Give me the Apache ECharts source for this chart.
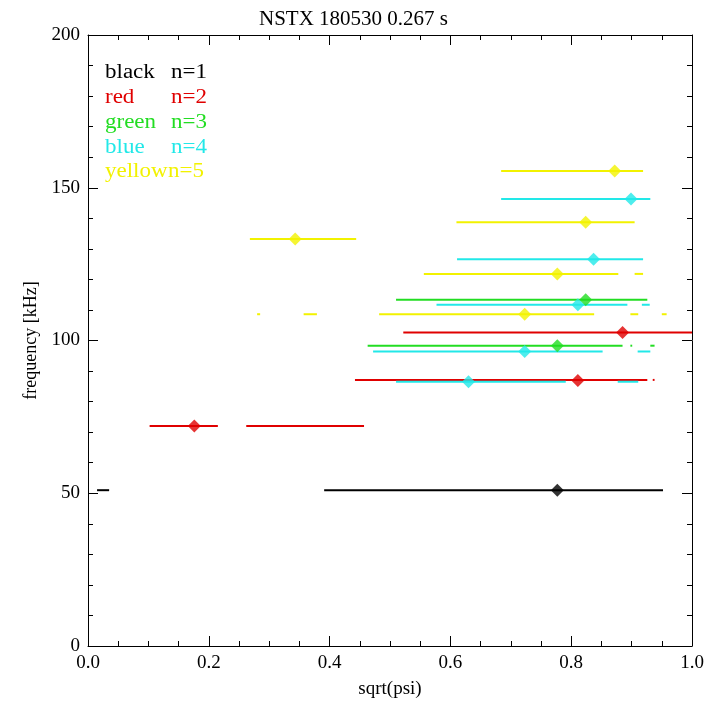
<!DOCTYPE html>
<html><head><meta charset="utf-8">
<script src="https://cdn.jsdelivr.net/npm/echarts@6/dist/echarts.min.js"></script>
<style>html,body{margin:0;padding:0;background:#fff}#c{width:707px;height:701px}</style>
</head><body><div id="c"></div>
<script>
const title = 'NSTX 180530 0.267 s';
const xTicks = [0, 0.2, 0.4, 0.6, 0.8, 1.0];
const yTicks = [0, 50, 100, 150, 200];
const legendNames = ['black', 'red', 'green', 'blue', 'yellow'];
const legendModes = ['n=1', 'n=2', 'n=3', 'n=4', 'n=5'];
const colors = ['#000000', '#e00000', '#22dd22', '#22e8e8', '#f2f200'];
// markers: [sqrt(psi), frequency kHz]
const blackPts = [[0.777, 51]];
const redPts = [[0.176, 72], [0.811, 86.9], [0.885, 102.6]];
const greenPts = [[0.777, 98.3], [0.824, 113.3]];
const bluePts = [[0.630, 86.5], [0.723, 96.4], [0.811, 111.7], [0.837, 126.6], [0.899, 146.3]];
const yellowPts = [[0.343, 133.2], [0.723, 108.6], [0.777, 121.8], [0.824, 138.7], [0.872, 155.5]];
// horizontal extent segments: [x1, x2, frequency]
const blackSeg = [[0.391, 0.952, 51], [0.015, 0.035, 51]];
const redSeg = [[0.102, 0.215, 72], [0.262, 0.457, 72], [0.442, 0.926, 87.1], [0.935, 0.938, 87.1], [0.522, 1.0, 102.6]];
const greenSeg = [[0.463, 0.885, 98.3], [0.898, 0.901, 98.3], [0.931, 0.938, 98.3], [0.510, 0.926, 113.3]];
const blueSeg = [[0.510, 0.791, 86.5], [0.877, 0.911, 86.5], [0.472, 0.852, 96.4], [0.910, 0.931, 96.4],
  [0.577, 0.893, 111.7], [0.917, 0.930, 111.7], [0.611, 0.919, 126.6], [0.684, 0.931, 146.3]];
const yellowSeg = [[0.268, 0.444, 133.2], [0.280, 0.285, 108.6], [0.357, 0.379, 108.6], [0.482, 0.838, 108.6],
  [0.898, 0.911, 108.6], [0.950, 0.958, 108.6], [0.556, 0.878, 121.8], [0.905, 0.919, 121.8],
  [0.610, 0.905, 138.7], [0.684, 0.919, 155.5]];

const allPts = [blackPts, redPts, greenPts, bluePts, yellowPts];
const allSeg = [blackSeg, redSeg, greenSeg, blueSeg, yellowSeg];
const font = 'Liberation Serif';

const chart = echarts.init(document.getElementById('c'), null, {renderer: 'canvas'});
const series = [];
allSeg.forEach((segs, i) => {
  series.push({
    type: 'custom', xAxisIndex: 0, yAxisIndex: 0, clip: true, silent: true,
    data: segs,
    renderItem: (params, api) => {
      const p1 = api.coord([api.value(0), api.value(2)]);
      const p2 = api.coord([api.value(1), api.value(2)]);
      return {type: 'line', shape: {x1: p1[0], y1: p1[1], x2: p2[0], y2: p2[1]},
        style: {stroke: colors[i], lineWidth: 2}};
    }
  });
});
allPts.forEach((pts, i) => {
  series.push({
    type: 'scatter', xAxisIndex: 0, yAxisIndex: 0, symbol: 'diamond', symbolSize: 13,
    itemStyle: {color: colors[i]}, data: pts, silent: true, z: 5
  });
});

const graphics = [];
legendNames.forEach((n, i) => {
  const y = 73 + i * 24.8;
  graphics.push({type: 'text', x: 105, y: y, scaleX: 1.15,
    style: {text: n, font: '20px ' + font, fill: colors[i], verticalAlign: 'middle'}});
  graphics.push({type: 'text', x: i === 4 ? 168 : 171, y: y, scaleX: 1.15,
    style: {text: legendModes[i], font: '20px ' + font, fill: colors[i], verticalAlign: 'middle'}});
});

const xCommon = {min: 0, max: 1, interval: 0.2,
  axisLine: {show: true, onZero: false, lineStyle: {color: '#000', width: 1}},
  axisTick: {show: true, inside: true, length: 10, lineStyle: {color: '#000'}},
  minorTick: {show: true, splitNumber: 4, length: 5, lineStyle: {color: '#000'}},
  splitLine: {show: false}};
const yCommon = {min: 0, max: 200, interval: 50,
  axisLine: {show: true, onZero: false, lineStyle: {color: '#000', width: 1}},
  axisTick: {show: true, inside: true, length: 10, lineStyle: {color: '#000'}},
  minorTick: {show: true, splitNumber: 5, length: 5, lineStyle: {color: '#000'}},
  splitLine: {show: false}};

chart.setOption({
  animation: false,
  backgroundColor: '#fff',
  title: {text: title, left: 'center', top: 4, textStyle: {fontFamily: font, fontSize: 21, fontWeight: 'normal', color: '#000'}},
  grid: {left: 88, right: 15, top: 35, bottom: 55, containLabel: false, outerBoundsMode: 'none'},
  xAxis: [
    Object.assign({}, xCommon, {type: 'value', position: 'bottom', name: 'sqrt(psi)', nameLocation: 'middle', nameGap: 34,
      nameTextStyle: {fontFamily: font, fontSize: 19, color: '#000'},
      axisLabel: {fontFamily: font, fontSize: 19, color: '#000', margin: 8,
        formatter: v => xTicks.includes(+v.toFixed(1)) ? v.toFixed(1) : ''}}),
    Object.assign({}, xCommon, {type: 'value', position: 'top', axisLabel: {show: false}})
  ],
  yAxis: [
    Object.assign({}, yCommon, {type: 'value', position: 'left', name: 'frequency [kHz]', nameLocation: 'middle', nameGap: 40,
      nameTextStyle: {fontFamily: font, fontSize: 18, color: '#000'},
      axisLabel: {fontFamily: font, fontSize: 19, color: '#000', margin: 8,
        formatter: v => yTicks.includes(v) ? String(v) : ''}}),
    Object.assign({}, yCommon, {type: 'value', position: 'right', axisLabel: {show: false}})
  ],
  series: series,
  graphic: graphics
});
</script></body></html>
